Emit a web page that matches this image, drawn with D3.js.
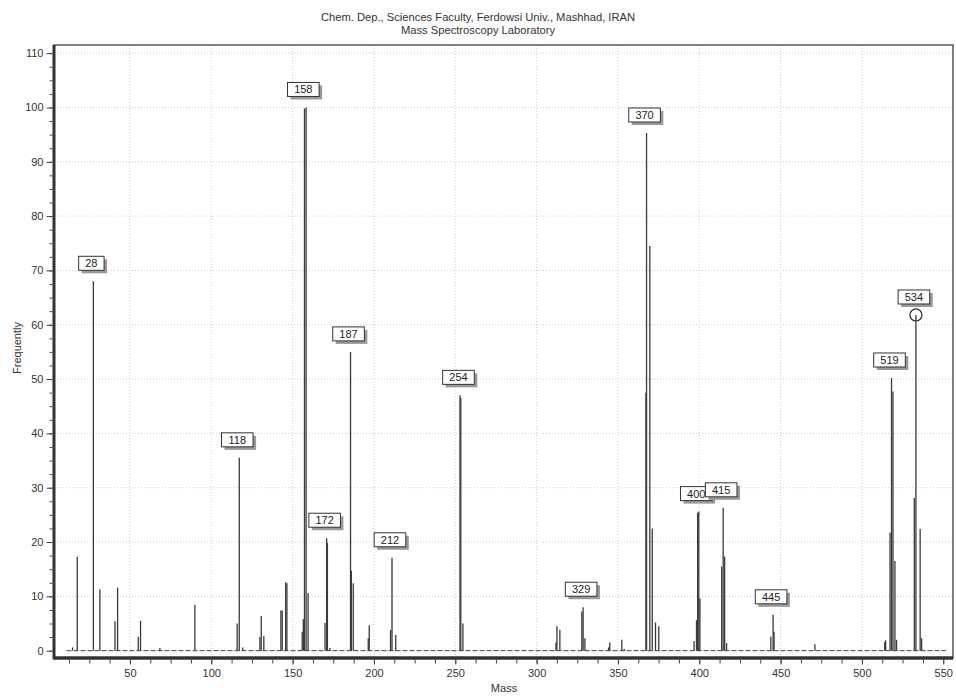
<!DOCTYPE html>
<html>
<head>
<meta charset="utf-8">
<script src="https://cdn.jsdelivr.net/npm/d3@7"></script>
<style>
  body { margin: 0; background: #fff; }
  svg { font-family: "Liberation Sans", Arial, sans-serif; }
  .axis path { display: none; }
  .axis line { stroke: #444; }
  .axis text { fill: #333; font-size: 11px; }
</style>
</head>
<body>
<svg class="chart" width="956" height="696"></svg>
<script>
// peak positions (mass) and intensities
const masses = [14.7, 17.6, 27.5, 31.5, 40.8, 42.4, 55.1, 56.5, 68.4, 89.9,
  115.9, 117.2, 119.3, 129.9, 130.7, 132.3, 142.8, 143.6, 145.7, 146.5,
  155.9, 156.6, 157.3, 158.3, 159.5, 169.9, 170.9, 171.4, 172.9,
  185.6, 186.1, 187.3, 196.5, 197.1, 210.2, 211.1, 213.4,
  252.9, 253.4, 254.7, 311.9, 312.5, 314.3, 327.8, 328.6, 329.7,
  344.2, 345.0, 352.4, 353.9, 367.2, 367.6, 369.6, 371.1, 373.1, 375.1,
  396.8, 398.3, 399.0, 399.7, 400.4, 413.8, 414.7, 415.6, 416.8,
  444.0, 445.4, 446.0, 471.1, 514.0, 514.6, 517.3, 518.2, 519.1, 520.3, 521.3,
  532.2, 533.2, 535.8, 536.7];
const intensities = [0.6, 17.3, 68.0, 11.3, 5.4, 11.6, 2.5, 5.5, 0.5, 8.4,
  5.0, 35.5, 0.6, 2.5, 6.4, 2.7, 7.4, 7.4, 12.6, 12.4,
  3.5, 5.8, 99.8, 100, 10.6, 5.1, 20.7, 19.8, 0.5,
  55.0, 14.7, 12.4, 2.3, 4.7, 3.8, 17.1, 2.9,
  47.0, 46.5, 5.0, 1.5, 4.5, 3.8, 7.2, 8.0, 2.3,
  0.6, 1.5, 2.0, 0.3, 47.5, 95.3, 74.5, 22.5, 5.2, 4.5,
  1.8, 5.6, 25.4, 25.6, 9.6, 15.5, 26.3, 17.3, 1.4,
  2.6, 6.6, 3.5, 1.2, 1.6, 1.9, 21.7, 50.2, 47.7, 16.5, 2.0,
  28.1, 61.8, 22.4, 2.3];

// boxed annotations: text, and the peak they sit on
const labelTexts = ["28", "118", "158", "172", "187", "212", "254", "329", "370", "400", "415", "445", "519", "534"];
const labelMasses = [27.5, 117.2, 157.8, 170.9, 185.6, 211.1, 253.2, 328.6, 367.6, 399.4, 414.7, 445.4, 518.2, 533.2];
const labelValues = [68.0, 35.5, 100, 20.7, 55.0, 17.1, 47.0, 8.0, 95.3, 25.6, 26.3, 6.6, 50.2, 61.8];

const xMajor = d3.range(50, 551, 50);
const xMinor = d3.range(12.5, 556, 12.5);
const yMajor = d3.range(0, 111, 10);
const yMinor = d3.range(0, 111.5, 2.5);

const titleLines = ["Chem. Dep., Sciences Faculty, Ferdowsi Univ., Mashhad, IRAN", "Mass Spectroscopy Laboratory"];

const plotLeft = 54, plotRight = 953, plotTop = 45, plotBottom = 658;
const svg = d3.select(".chart");

const xScale = d3.scaleLinear().domain([3.3, 556]).range([plotLeft, plotRight]);
const yScale = d3.scaleLinear().domain([-1.35, 111.5]).range([plotBottom, plotTop]);

// title
svg.selectAll(".title")
  .data(titleLines)
  .enter()
  .append("text")
  .attr("class", "title")
  .attr("x", 478)
  .attr("y", (d, i) => 21 + i * 13)
  .attr("text-anchor", "middle")
  .style("font-size", "11.2px")
  .style("fill", "#333")
  .text((d) => d);

// dotted grid
svg.append("g")
  .selectAll("line")
  .data(xMajor.filter((d) => d < 550))
  .enter()
  .append("line")
  .attr("x1", (d) => xScale(d))
  .attr("x2", (d) => xScale(d))
  .attr("y1", plotTop)
  .attr("y2", plotBottom)
  .attr("stroke", "#cfcfcf")
  .attr("stroke-dasharray", "1,2");

svg.append("g")
  .selectAll("line")
  .data(yMajor.filter((d) => d > 0))
  .enter()
  .append("line")
  .attr("x1", plotLeft)
  .attr("x2", plotRight)
  .attr("y1", (d) => yScale(d))
  .attr("y2", (d) => yScale(d))
  .attr("stroke", "#cfcfcf")
  .attr("stroke-dasharray", "1,2");

// dashed baseline of the spectrum
svg.append("line")
  .attr("x1", xScale(11))
  .attr("x2", xScale(551.6))
  .attr("y1", yScale(0))
  .attr("y2", yScale(0))
  .attr("stroke", "#444")
  .attr("stroke-width", 1)
  .attr("stroke-dasharray", "5,2");

// peaks
svg.append("g")
  .selectAll("line")
  .data(masses)
  .enter()
  .append("line")
  .attr("x1", (d) => xScale(d))
  .attr("x2", (d) => xScale(d))
  .attr("y1", yScale(0))
  .attr("y2", (d, i) => yScale(intensities[i]))
  .attr("stroke", "#3a3a3a")
  .attr("stroke-width", 1.3);

// circle on the 534 peak
svg.append("circle")
  .attr("cx", xScale(533.2))
  .attr("cy", yScale(61.8))
  .attr("r", 6)
  .attr("fill", "none")
  .attr("stroke", "#333")
  .attr("stroke-width", 1.3);

// frame
svg.append("rect")
  .attr("x", plotLeft)
  .attr("y", plotTop)
  .attr("width", plotRight - plotLeft)
  .attr("height", plotBottom - plotTop)
  .attr("fill", "none")
  .attr("stroke", "#555")
  .attr("stroke-width", 1.5);

svg.append("line")
  .attr("x1", plotLeft).attr("x2", plotLeft)
  .attr("y1", plotTop).attr("y2", plotBottom + 1.5)
  .attr("stroke", "#333").attr("stroke-width", 3);
svg.append("line")
  .attr("x1", plotLeft).attr("x2", plotRight)
  .attr("y1", plotBottom).attr("y2", plotBottom)
  .attr("stroke", "#333").attr("stroke-width", 3.5);

// axes
svg.append("g")
  .attr("class", "axis")
  .attr("transform", `translate(0,${plotBottom + 1.5})`)
  .call(d3.axisBottom(xScale).tickValues(xMinor).tickSize(4).tickFormat(""));
svg.append("g")
  .attr("class", "axis")
  .attr("transform", `translate(0,${plotBottom + 1.5})`)
  .call(d3.axisBottom(xScale).tickValues(xMajor).tickSize(5).tickPadding(5).tickFormat((d) => d));

svg.append("g")
  .attr("class", "axis")
  .attr("transform", `translate(${plotLeft - 1.5},0)`)
  .call(d3.axisLeft(yScale).tickValues(yMinor).tickSize(3).tickFormat(""));
svg.append("g")
  .attr("class", "axis")
  .attr("transform", `translate(${plotLeft - 1.5},0)`)
  .call(d3.axisLeft(yScale).tickValues(yMajor).tickSize(6).tickPadding(3).tickFormat((d) => d));

// axis titles
svg.append("text")
  .attr("x", 504)
  .attr("y", 692)
  .attr("text-anchor", "middle")
  .style("font-size", "11px")
  .style("fill", "#333")
  .text("Mass");

svg.append("text")
  .attr("transform", "translate(21,348) rotate(-90)")
  .attr("text-anchor", "middle")
  .style("font-size", "11px")
  .style("fill", "#333")
  .text("Frequently");

// boxed peak labels
const boxes = svg.append("g")
  .selectAll("g")
  .data(labelTexts)
  .enter()
  .append("g")
  .attr("transform", (d, i) => `translate(${xScale(labelMasses[i]) - 2},${yScale(labelValues[i]) - 11})`);

boxes.each(function (d) {
  const w = d.length * 6.2 + 13;
  const g = d3.select(this);
  g.append("rect")
    .attr("x", -w / 2 + 3)
    .attr("y", -14 + 3)
    .attr("width", w)
    .attr("height", 14)
    .attr("fill", "#999");
  g.append("rect")
    .attr("x", -w / 2)
    .attr("y", -14)
    .attr("width", w)
    .attr("height", 14)
    .attr("fill", "#fff")
    .attr("stroke", "#333")
    .attr("stroke-width", 1);
  g.append("text")
    .attr("x", 0)
    .attr("y", -3)
    .attr("text-anchor", "middle")
    .style("font-size", "11px")
    .style("fill", "#222")
    .text(d);
});
</script>
</body>
</html>
